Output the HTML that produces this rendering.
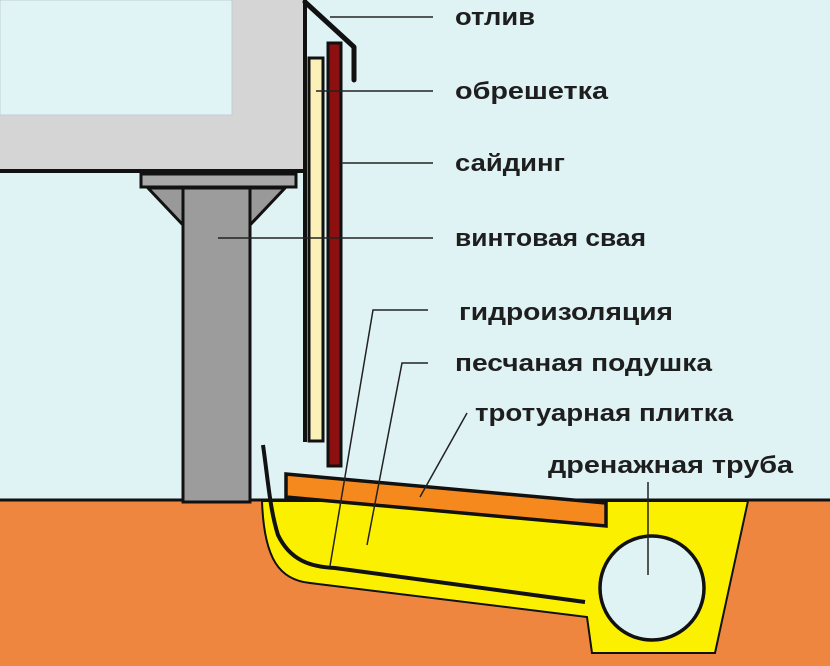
<!DOCTYPE html>
<html><head><meta charset="utf-8"><style>
html,body{margin:0;padding:0;background:#dff3f5;}
svg{display:block}
text{font-family:"Liberation Sans",sans-serif;font-weight:bold;font-size:24px;fill:#1e1e1e}
</style></head><body>
<svg width="830" height="666" viewBox="0 0 830 666" xmlns="http://www.w3.org/2000/svg">
<rect width="830" height="666" fill="#dff3f5"/>
<rect x="0" y="500" width="830" height="166" fill="#ef8640"/>
<line x1="0" y1="500" x2="830" y2="500" stroke="#111" stroke-width="3"/>
<rect x="0" y="0" width="304" height="170" fill="#d5d5d5"/>
<rect x="0" y="0" width="232" height="115" fill="#e0f4f6" stroke="#c4cfd1" stroke-width="1"/>
<line x1="0" y1="171" x2="306" y2="171" stroke="#111" stroke-width="4"/>
<line x1="305" y1="0" x2="305" y2="442" stroke="#111" stroke-width="4"/>
<rect x="141" y="174" width="155" height="13" fill="#a9a9a9" stroke="#111" stroke-width="3"/>
<polygon points="148,188 183,188 183,225" fill="#999" stroke="#111" stroke-width="3"/>
<polygon points="285,188 250,188 250,225" fill="#999" stroke="#111" stroke-width="3"/>
<rect x="183" y="188" width="67" height="314" fill="#9c9c9c" stroke="#111" stroke-width="3"/>
<rect x="309" y="58" width="14" height="383" fill="#fbf1b8" stroke="#111" stroke-width="3"/>
<rect x="328" y="43" width="13" height="423" fill="#8c1010" stroke="#111" stroke-width="3"/>
<polyline points="305,2 354,47 354,80" fill="none" stroke="#111" stroke-width="5" stroke-linecap="round" stroke-linejoin="round"/>
<path d="M262,501 C264,560 280,580 310,583 L587,617 L592,653 L715,653 L748,501 Z" fill="#fbf000" stroke="#111" stroke-width="2"/>
<polygon points="286,474 606,503 606,526 286,497" fill="#f5891d" stroke="#111" stroke-width="3.5"/>
<path d="M263,445 C268,480 270,510 278,535 C290,560 310,567 335,568 L585,602" fill="none" stroke="#111" stroke-width="4"/>
<circle cx="652" cy="588" r="52" fill="#dff3f5" stroke="#111" stroke-width="3.5"/>
<g stroke="#222" stroke-width="1.5" fill="none">
<line x1="330" y1="17" x2="433" y2="17"/>
<line x1="316" y1="91" x2="433" y2="91"/>
<line x1="341" y1="163" x2="433" y2="163"/>
<line x1="218" y1="238" x2="433" y2="238"/>
<polyline points="428,310 373,310 330,566"/>
<polyline points="428,363 402,363 367,545"/>
<line x1="467" y1="413" x2="420" y2="497"/>
<line x1="648" y1="482" x2="648" y2="575"/>
</g>
<text x="455" y="25" textLength="80" lengthAdjust="spacingAndGlyphs">отлив</text>
<text x="455" y="99" textLength="153" lengthAdjust="spacingAndGlyphs">обрешетка</text>
<text x="455" y="171" textLength="110" lengthAdjust="spacingAndGlyphs">сайдинг</text>
<text x="455" y="246" textLength="191" lengthAdjust="spacingAndGlyphs">винтовая свая</text>
<text x="459" y="320" textLength="214" lengthAdjust="spacingAndGlyphs">гидроизоляция</text>
<text x="455" y="371" textLength="257" lengthAdjust="spacingAndGlyphs">песчаная подушка</text>
<text x="475" y="421" textLength="258" lengthAdjust="spacingAndGlyphs">тротуарная плитка</text>
<text x="548" y="473" textLength="245" lengthAdjust="spacingAndGlyphs">дренажная труба</text>
</svg>
</body></html>
